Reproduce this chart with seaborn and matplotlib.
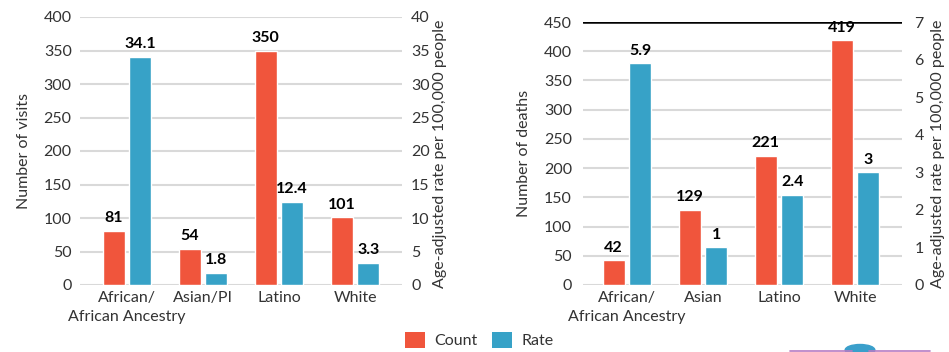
import numpy as np
import pandas as pd
import matplotlib
matplotlib.use("Agg")
import matplotlib.pyplot as plt
from matplotlib.patches import Patch, Circle
import seaborn as sns

# Emergency department visits (left) and deaths (right) by race/ethnicity
visit_groups = ["African/\nAfrican Ancestry", "Asian/PI", "Latino", "White"]
visit_counts = [81, 54, 350, 101]
visit_rates = [34.1, 1.8, 12.4, 3.3]

death_groups = ["African/\nAfrican Ancestry", "Asian", "Latino", "White"]
death_counts = [42, 129, 221, 419]
death_rates = [5.9, 1, 2.4, 3]

series = ["Count", "Rate"]
count_ticks_visits = [0, 50, 100, 150, 200, 250, 300, 350, 400]
rate_ticks_visits = [0, 5, 10, 15, 20, 25, 30, 35, 40]
count_ticks_deaths = [0, 50, 100, 150, 200, 250, 300, 350, 400, 450]
rate_ticks_deaths = [0, 1, 2, 3, 4, 5, 6, 7]

RED = "#F0553C"
BLUE = "#37A2C7"
GRID = "#D9D9D9"
TEXT = "#333333"
palette = {"Count": RED, "Rate": BLUE}

sns.set_theme(style="white")
plt.rcParams["font.family"] = ["Lato", "DejaVu Sans"]
FS = 11.5

W, H = 949, 352
fig = plt.figure(figsize=(W / 100, H / 100), dpi=100)


def long_table(groups, counts, rates):
    return pd.DataFrame({
        "group": list(groups) * 2,
        "measure": ["Count"] * len(groups) + ["Rate"] * len(groups),
        "value": list(counts) + list(rates),
    })


def panel(rect, groups, counts, rates, cticks, rticks, ylabel_left,
          xlim, top_black=False, lpad=9, rpad=2, ltick_pad=6, rtick_pad=6.5):
    df = long_table(groups, counts, rates)
    ax = fig.add_axes(rect)
    ax2 = ax.twinx()

    common = dict(x="group", y="value", hue="measure", hue_order=series,
                  order=groups, palette=palette, width=0.7, gap=0.17,
                  dodge=True, errorbar=None, legend=False, saturation=1)
    sns.barplot(data=df[df.measure == "Count"], ax=ax, **common)
    sns.barplot(data=df[df.measure == "Rate"], ax=ax2, **common)

    ax.set_ylim(cticks[0], cticks[-1])
    ax2.set_ylim(rticks[0], rticks[-1])
    ax.set_yticks(cticks)
    ax2.set_yticks(rticks)
    ax.set_xlim(*xlim)

    for a in (ax, ax2):
        for s in a.spines.values():
            s.set_visible(False)
        a.tick_params(length=0, labelsize=FS, colors=TEXT)

    ax.tick_params(axis="y", pad=ltick_pad)
    ax2.tick_params(axis="y", pad=rtick_pad)
    ax.tick_params(axis="x", pad=4)
    ax.set_xticks(range(len(groups)))
    ax.set_xticklabels(groups, fontsize=FS, color=TEXT, linespacing=1.45,
                       ha="center")

    ax.set_axisbelow(True)
    ax.yaxis.grid(True, color=GRID, linewidth=1.5)
    ax.xaxis.grid(False)
    ax2.grid(False)
    if top_black:
        ax.get_ygridlines()[-1].set_color("black")
        ax.get_ygridlines()[-1].set_linewidth(1.8)

    ax.set_xlabel("")
    ax.set_ylabel(ylabel_left, fontsize=FS, color=TEXT, labelpad=lpad)
    ax2.set_ylabel("Age-adjusted rate per 100,000 people", fontsize=FS,
                   color=TEXT, labelpad=rpad)
    # the long rate label starts at the baseline and runs upward
    ax2.yaxis.label.set_horizontalalignment("left")
    ax2.yaxis.label.set_y(-0.01)

    ax.bar_label(ax.containers[0], labels=[f"{v:g}" for v in counts],
                 padding=4, fontsize=FS, fontweight="bold", color="black")
    ax2.bar_label(ax2.containers[-1], labels=[f"{v:g}" for v in rates],
                  padding=4, fontsize=FS, fontweight="bold", color="black")
    return ax, ax2


panel([80 / W, 67 / H, 322 / W, 268 / H], visit_groups, visit_counts,
      visit_rates, count_ticks_visits, rate_ticks_visits, "Number of visits",
      (-0.618, 3.618), lpad=9, rpad=2, ltick_pad=6, rtick_pad=6.5)

panel([583 / W, 67 / H, 319 / W, 263 / H], death_groups, death_counts,
      death_rates, count_ticks_deaths, rate_ticks_deaths, "Number of deaths",
      (-0.579, 3.618), top_black=True, lpad=9, rpad=5, ltick_pad=8,
      rtick_pad=9)

handles = [Patch(facecolor=palette[s], edgecolor="none", label=s) for s in series]
fig.legend(handles=handles, loc="center", bbox_to_anchor=(479 / W, 12 / H),
           ncol=2, frameon=False, fontsize=FS, handlelength=1.25,
           handleheight=1.25, handletextpad=0.6, columnspacing=0.9,
           labelcolor=TEXT)

# slider control peeking in at the bottom edge
fig.add_artist(plt.Line2D([790 / W, 852 / W], [1.5 / H, 1.5 / H],
                          color="#B57BC4", lw=1.2, transform=fig.transFigure))
fig.add_artist(plt.Line2D([869 / W, 930 / W], [1.5 / H, 1.5 / H],
                          color="#B57BC4", lw=1.2, transform=fig.transFigure))
fig.add_artist(Circle((860 / W, 2 / H), 5.5 / H, color="#3A9FCB",
                      transform=fig.transFigure))

fig.savefig("out.png", dpi=100)
